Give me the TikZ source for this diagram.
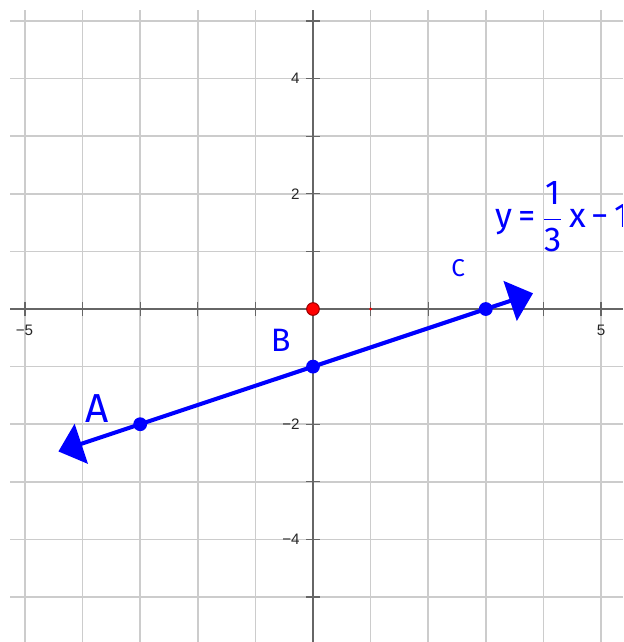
\documentclass[tikz,border=0pt]{standalone}
\usepackage{fontspec}
\usepackage{amsmath}
\setmainfont{Liberation Sans}
\newfontfamily\hand{Fira Sans}
\usetikzlibrary{arrows.meta}
\tikzset{
  gridline/.style={draw=black!20, line width=0.75pt},
  axisline/.style={draw=black!60, line width=0.6pt},
  ticklabel/.style={font=\fontsize{7.5}{9}\selectfont, text=black!85, inner sep=1pt},
  blueline/.style={draw=blue, line width=2pt},
  bluedot/.style={circle, fill=blue, inner sep=0pt, minimum size=0.24cm},
  handlabel/.style={text=blue, inner sep=0pt},
  bigtip/.tip={Triangle[length=0.42cm, width=0.72cm]}
}
\begin{document}
\begin{tikzpicture}[x=1cm,y=1cm]
\clip (-5.434,-5.781) rectangle (5.382,5.365);
\fill[white] (-5.434,-5.781) rectangle (5.382,5.365);
% grid
\foreach \i in {-5,...,5} {
  \draw[gridline] (\i,-5.9) -- (\i,5.19);
  \draw[gridline] (-5.26,\i) -- (5.5,\i);
}
% axes
\draw[axisline] (-5.26,0) -- (5.5,0);
\draw[axisline] (0,5.19) -- (0,-5.9);
\foreach \i in {-5,...,5} {
  \draw[axisline] (\i,-0.12) -- (\i,0.12);
  \draw[axisline] (-0.12,\i) -- (0.12,\i);
}
% tick labels
\node[ticklabel] (xm5) at (-5.01,-0.37) {−5};
\node[ticklabel] (xp5) at (5.0,-0.37) {5};
\node[ticklabel, anchor=east] (y4) at (-0.19,4) {4};
\node[ticklabel, anchor=east] (y2) at (-0.19,2) {2};
\node[ticklabel, anchor=east] (ym2) at (-0.19,-2) {−2};
\node[ticklabel, anchor=east] (ym4) at (-0.19,-4) {−4};
% line y = x/3 - 1
\coordinate (L) at (-4.42,-2.473);
\coordinate (R) at (3.82,0.273);
\draw[blueline, bigtip-bigtip] (L) -- (R);
\node[bluedot] (A) at (-3,-2) {};
\node[bluedot] (B) at (0,-1) {};
\node[bluedot] (C) at (3,0) {};
% origin
\node[circle, fill=red, draw=red!60!black, line width=0.5pt, inner sep=0pt, minimum size=0.22cm] (O) at (0,0) {};
\node[circle, fill=red, inner sep=0pt, minimum size=0.05cm] (U) at (1,0) {};
% handwritten labels
\node[handlabel, font=\hand\fontsize{20}{24}\selectfont] (labA) at (-3.75,-1.72) {A};
\node[handlabel, font=\hand\fontsize{16}{19}\selectfont] (labB) at (-0.56,-0.54) {B};
\node[handlabel, font=\hand\fontsize{12}{14}\selectfont] (labC) at (2.52,0.71) {C};
\node[handlabel, anchor=west, font=\hand\fontsize{17}{20}\selectfont] (eq) at (3.17,1.6)
  {y\,=\,$\dfrac{\text{1}}{\text{3}}$\,x\,−\,1};
\end{tikzpicture}
\end{document}
